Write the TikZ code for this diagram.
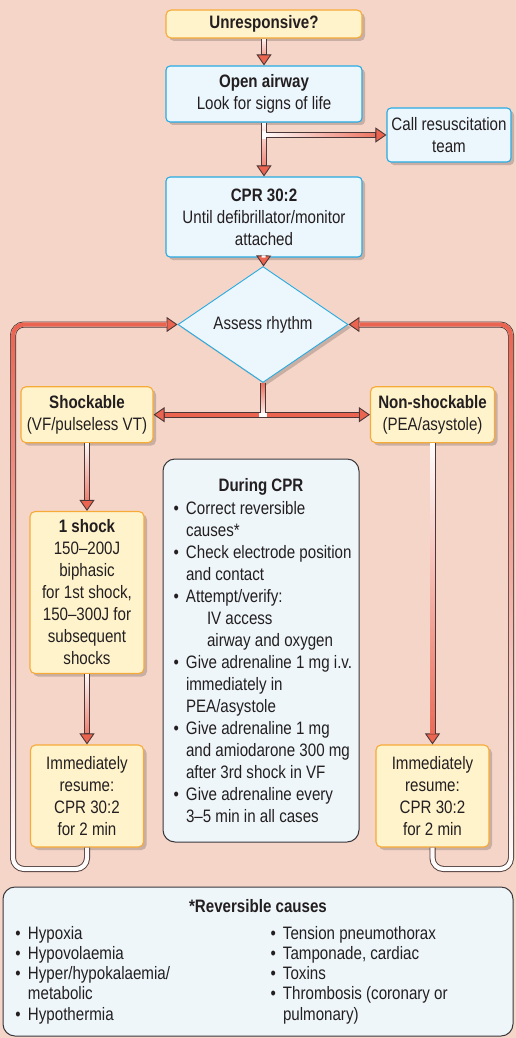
\documentclass[tikz,border=0pt]{standalone}
\usepackage{fontspec}
\setmainfont{Liberation Sans}[FakeStretch=0.84]
\definecolor{bgpink}{RGB}{245,213,200}
\definecolor{boxyellow}{RGB}{255,243,204}
\definecolor{edgeorange}{RGB}{246,170,55}
\definecolor{boxblue}{RGB}{236,246,253}
\definecolor{edgeblue}{RGB}{40,170,226}
\definecolor{inktext}{RGB}{35,31,32}
\definecolor{pipeedge}{RGB}{75,55,55}
\definecolor{pipered}{RGB}{234,100,80}
\definecolor{noteedge}{RGB}{55,55,60}
\definecolor{noteblue}{RGB}{238,246,250}
\usetikzlibrary{arrows.meta,shapes.geometric,shadows,calc,fadings}

\tikzfading[name=pipedown,top color=transparent!100,middle color=transparent!45,bottom color=transparent!0]
\tikzfading[name=pipeup,top color=transparent!0,middle color=transparent!10,bottom color=transparent!100]
\tikzfading[name=piperight,left color=transparent!100,middle color=transparent!45,right color=transparent!0]
\tikzfading[name=pipeout,left color=transparent!0,middle color=transparent!100,right color=transparent!0]

\tikzset{
  every node/.style={text=inktext,font=\fontsize{18}{22}\selectfont},
  shadowed/.style={drop shadow={shadow xshift=3pt,shadow yshift=-3pt,opacity=0.18,fill=black}},
  yellowbox/.style={draw=edgeorange,fill=boxyellow,line width=1.1pt,rounded corners=5pt,align=center,inner sep=2pt,shadowed},
  bluebox/.style={draw=edgeblue,fill=boxblue,line width=1.1pt,rounded corners=4pt,align=center,inner sep=2pt,shadowed},
  notebox/.style={draw=noteedge,fill=noteblue,line width=1pt,rounded corners=12pt,align=center,inner sep=0pt},
  decision/.style={diamond,draw=edgeblue,fill=boxblue,line width=0.9pt,inner sep=0pt,shadowed},
  pipe/.style 2 args={draw=pipeedge,line width=6pt,
    >={Triangle[length=11pt,width=15pt,fill=pipered,line width=0.9pt]},
    postaction={draw=white,line width=4.2pt,arrows=-,#2},
    postaction={draw=pipered,line width=4.2pt,arrows=-,#2,path fading=#1}},
  pipecore/.style={draw=white,line width=4.2pt}
}
\newcommand{\cprbul}{\makebox[12.5pt][l]{\textbullet}}
\newcommand{\cprind}{\hspace*{12.5pt}}

\begin{document}
\begin{tikzpicture}[x=1pt,y=-1pt]
  \fill[bgpink] (0,0) rectangle (516,1038);
  \useasboundingbox (0,0) rectangle (516,1038);

  \node[yellowbox,minimum width=196pt,minimum height=28pt] (unresp) at (264,24)
        {\textbf{Unresponsive?}};
  \node[bluebox,minimum width=196pt,minimum height=56pt] (airway) at (264,94)
        {\textbf{Open airway}\\Look for signs of life};
  \node[bluebox,minimum width=124pt,minimum height=54pt] (team) at (449,135)
        {Call resuscitation\\team};
  \node[bluebox,minimum width=196pt,minimum height=80pt] (cpr) at (264,217)
        {\textbf{CPR 30:2}\\Until defibrillator/monitor\\attached};
  \node[decision,minimum width=170pt,minimum height=83pt] (rhythm) at (263,324.5)
        {Assess rhythm};
  \node[yellowbox,minimum width=132pt,minimum height=56pt] (shock) at (87,414.7)
        {\textbf{Shockable}\\(VF/pulseless VT)};
  \node[yellowbox,minimum width=124pt,minimum height=56pt] (nonshock) at (432.5,414.7)
        {\textbf{Non-shockable}\\(PEA/asystole)};
  \node[yellowbox,minimum width=114pt,minimum height=162pt] (oneshock) at (87,592.5)
        {\textbf{1 shock}\\150--200J\\biphasic\\for 1st shock,\\150--300J for\\subsequent\\shocks};
  \node[yellowbox,minimum width=113pt,minimum height=102pt] (resumeL) at (87,796)
        {Immediately\\resume:\\CPR 30:2\\for 2 min};
  \node[yellowbox,minimum width=113pt,minimum height=102pt] (resumeR) at (432.5,796)
        {Immediately\\resume:\\CPR 30:2\\for 2 min};

  \node[notebox,minimum width=196pt,minimum height=383pt] (during) at (261,650.5)
        {\textbf{During CPR}\\[6pt]
         \parbox{185pt}{\raggedright
           \cprbul Correct reversible\\
           \cprind causes*\\
           \cprbul Check electrode position\\
           \cprind and contact\\
           \cprbul Attempt/verify:\\
           \cprind\hspace*{21pt}IV access\\
           \cprind\hspace*{21pt}airway and oxygen\\
           \cprbul Give adrenaline 1 mg i.v.\\
           \cprind immediately in\\
           \cprind PEA/asystole\\
           \cprbul Give adrenaline 1 mg\\
           \cprind and amiodarone 300 mg\\
           \cprind after 3rd shock in VF\\
           \cprbul Give adrenaline every\\
           \cprind 3--5 min in all cases}\hspace*{-10pt}};
  \node[notebox,minimum width=510pt,minimum height=149pt] (causes) at (258,961.5)
        {\textbf{*Reversible causes}\\[5pt]
         \parbox[t]{255pt}{\fontsize{18}{20.3}\selectfont\raggedright
           \cprbul Hypoxia\\
           \cprbul Hypovolaemia\\
           \cprbul Hyper/hypokalaemia/\\
           \cprind metabolic\\
           \cprbul Hypothermia}%
         \parbox[t]{230pt}{\fontsize{18}{20.3}\selectfont\raggedright
           \cprbul Tension pneumothorax\\
           \cprbul Tamponade, cardiac\\
           \cprbul Toxins\\
           \cprbul Thrombosis (coronary or\\
           \cprind pulmonary)}};

  \coordinate (fork) at (airway.south |- team.west);
  \coordinate (split) at (rhythm.south |- shock.east);
  \coordinate (loopL) at (13,869);
  \coordinate (loopR) at (511,869);

  \draw[pipe={pipedown}{shorten >=11pt},->] (unresp) -- (airway);
  \draw[pipe={pipedown}{shorten >=11pt},->] (airway) -- (cpr);
  \draw[pipe={piperight}{shorten >=11pt},->] (fork) -- (team.west);
  \draw[pipecore] ($(fork)+(0,-4)$) -- ($(fork)+(0,4)$);
  \draw[pipe={pipedown}{shorten >=11pt},->] (cpr) -- (rhythm);
  \draw[pipe={pipeout}{shorten >=11pt,shorten <=11pt},<->] (shock.east) -- (nonshock.west);
  \draw[pipe={pipeup}{}] (rhythm.south) -- (split);
  \draw[pipecore] ($(split)+(-4,0)$) -- ($(split)+(4,0)$);
  \draw[pipe={pipedown}{shorten >=11pt},->] (shock) -- (oneshock);
  \draw[pipe={pipedown}{shorten >=11pt},->] (oneshock) -- (resumeL);
  \draw[pipe={pipedown}{shorten >=11pt},->] (nonshock) -- (resumeR);
  \draw[pipe={pipeup}{shorten >=11pt},->,rounded corners=11pt] (resumeL.south) |- (loopL) |- (rhythm.west);
  \draw[pipe={pipeup}{shorten >=11pt},->,rounded corners=11pt] (resumeR.south) |- (loopR) |- (rhythm.east);
\end{tikzpicture}
\end{document}
